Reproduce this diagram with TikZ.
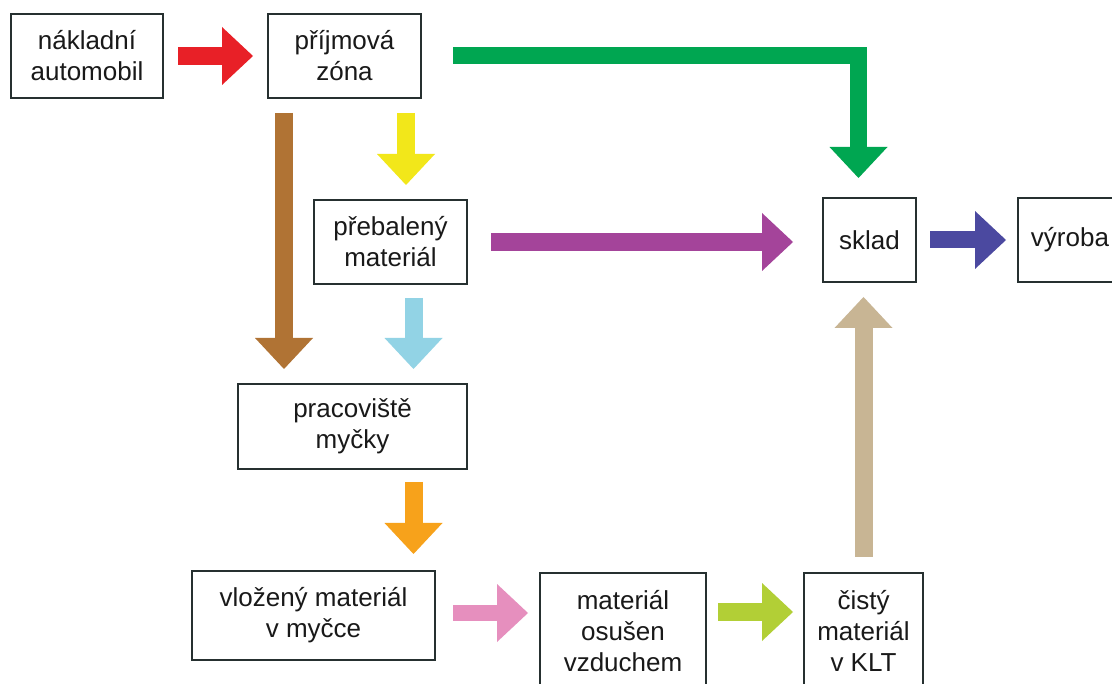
\documentclass[tikz,border=0pt]{standalone}
\usepackage{fontspec}
\setmainfont{Liberation Sans}
\usetikzlibrary{arrows.meta}
\definecolor{boxc}{RGB}{38,48,48}
\definecolor{txt}{RGB}{25,25,25}
\definecolor{cred}{RGB}{232,32,39}
\definecolor{cgreen}{RGB}{0,166,81}
\definecolor{cyellow}{RGB}{242,231,26}
\definecolor{cbrown}{RGB}{176,115,52}
\definecolor{cpurple}{RGB}{164,68,154}
\definecolor{cblue}{RGB}{146,211,229}
\definecolor{cnavy}{RGB}{75,73,160}
\definecolor{corange}{RGB}{247,162,27}
\definecolor{cpink}{RGB}{230,143,190}
\definecolor{clime}{RGB}{178,207,54}
\definecolor{ctan}{RGB}{200,181,148}
\begin{document}
\begin{tikzpicture}[x=1pt,y=-1pt,
  box/.style={draw=boxc, line width=2pt, align=center, outer sep=0pt, inner sep=0pt,
    font=\fontsize{26}{31}\selectfont, text=txt},
  flow/.style={line width=18pt, line join=miter,
    -{Triangle[length=31pt,width=58pt,line width=0pt]}}
]
\useasboundingbox (0,0) rectangle (1112,684);
\clip (0,0) rectangle (1112,684);
\fill[white] (0,0) rectangle (1112,684);

% boxes
\node[box, minimum width=152pt, minimum height=84pt] (truck) at (87,56) {nákladní\\automobil};
\node[box, minimum width=153pt, minimum height=84pt] (prijem) at (344.5,56) {příjmová\\zóna};
\node[box, minimum width=153pt, minimum height=84pt] (prebal) at (390.5,242) {přebalený\\materiál};
\node[box, minimum width=93pt, minimum height=84pt] (sklad) at (869.5,240) {sklad};
\node[box, minimum width=104pt, minimum height=84pt] (vyroba) at (1070,240) {výroba};
\node[box, minimum width=229pt, minimum height=85pt] (pracov) at (352.5,426.5) {pracoviště\\myčky};
\node[box, minimum width=243pt, minimum height=89pt] (vlozeny) at (313.5,615.5) {vložený materiál\\v myčce};
\node[box, minimum width=166pt, minimum height=116pt] (osusen) at (623,631) {materiál\\osušen\\vzduchem};
\node[box, minimum width=119pt, minimum height=116pt] (cisty) at (863.5,631) {čistý\\materiál\\v KLT};

% arrows
\draw[flow, cred, shorten <=15pt, shorten >=15pt] (truck.east) -- (prijem.west);
\draw[flow, cgreen, line width=17pt, shorten <=32pt, shorten >=20pt]
  (prijem.east) -| ([xshift=-11pt]sklad.north);
\draw[flow, cyellow, shorten <=15pt, shorten >=15pt]
  ([xshift=61.5pt]prijem.south) -- ([xshift=15.5pt]prebal.north);
\draw[flow, cbrown, shorten <=15pt, shorten >=15pt]
  ([xshift=-60.5pt]prijem.south) -- ([xshift=-68.5pt]pracov.north);
\draw[flow, cpurple, shorten <=24pt, shorten >=30pt]
  (prebal.east) -- (prebal.east -| sklad.west);
\draw[flow, cnavy, line width=17pt, shorten <=14pt, shorten >=12pt]
  (sklad.east) -- (vyroba.west);
\draw[flow, cblue, shorten <=14pt, shorten >=15pt]
  ([xshift=23pt]prebal.south) -- ([xshift=61pt]pracov.north);
\draw[flow, corange, shorten <=13pt, shorten >=17pt]
  ([xshift=61pt]pracov.south) -- ([xshift=100pt]vlozeny.north);
\draw[flow, cpink, line width=16pt, shorten <=18pt, shorten >=12pt]
  ([yshift=2.5pt]vlozeny.east) -- ([yshift=18pt]osusen.west);
\draw[flow, clime, shorten <=12pt, shorten >=11pt]
  ([yshift=19pt]osusen.east) -- ([yshift=19pt]cisty.west);
\draw[flow, ctan, shorten <=16pt, shorten >=15pt]
  (cisty.north) -- (cisty.north |- sklad.south);
\end{tikzpicture}
\end{document}
